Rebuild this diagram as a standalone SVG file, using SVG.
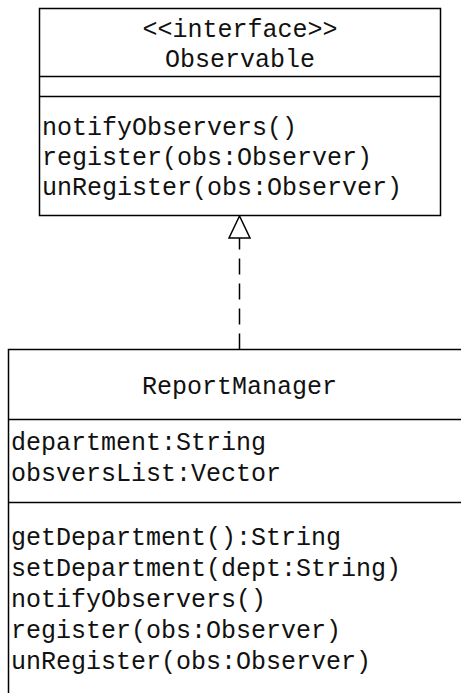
<svg xmlns="http://www.w3.org/2000/svg" width="461" height="693" viewBox="0 0 461 693">
<defs>
<style>
.box{fill:#fff;stroke:#000;stroke-width:1.5}
.sep{stroke:#000;stroke-width:1.5}
text{font-family:"Liberation Mono","Courier New",monospace;font-size:25px;fill:#111}
.c{text-anchor:middle}
</style>
</defs>
<rect width="461" height="693" fill="#fff"/>
<g id="connectors">
<line x1="239.5" y1="349.5" x2="239.5" y2="238" stroke="#000" stroke-width="1.5" stroke-dasharray="16,9"/>
<path d="M239.5 216 L229 238 L250 238 Z" fill="#fff" stroke="#000" stroke-width="1.5"/>
</g>
<g id="Observable">
<rect class="box" x="39.5" y="8.5" width="401" height="207"/>
<line class="sep" x1="39.5" y1="76.5" x2="440.5" y2="76.5"/>
<line class="sep" x1="39.5" y1="96.5" x2="440.5" y2="96.5"/>
<text class="c" x="240" y="37">&lt;&lt;interface&gt;&gt;</text>
<text class="c" x="240" y="67">Observable</text>
<text x="42" y="135">notifyObservers()</text>
<text x="42" y="165">register(obs:Observer)</text>
<text x="42" y="195">unRegister(obs:Observer)</text>
</g>
<g id="ReportManager">
<rect class="box" x="8.5" y="349.5" width="462" height="360"/>
<line class="sep" x1="8.5" y1="419.5" x2="470" y2="419.5"/>
<line class="sep" x1="8.5" y1="502.5" x2="470" y2="502.5"/>
<text class="c" x="239.5" y="394">ReportManager</text>
<text x="11" y="450">department:String</text>
<text x="11" y="481">obsversList:Vector</text>
<text x="11" y="545">getDepartment():String</text>
<text x="11" y="576">setDepartment(dept:String)</text>
<text x="11" y="607">notifyObservers()</text>
<text x="11" y="638">register(obs:Observer)</text>
<text x="11" y="669">unRegister(obs:Observer)</text>
</g>
</svg>
